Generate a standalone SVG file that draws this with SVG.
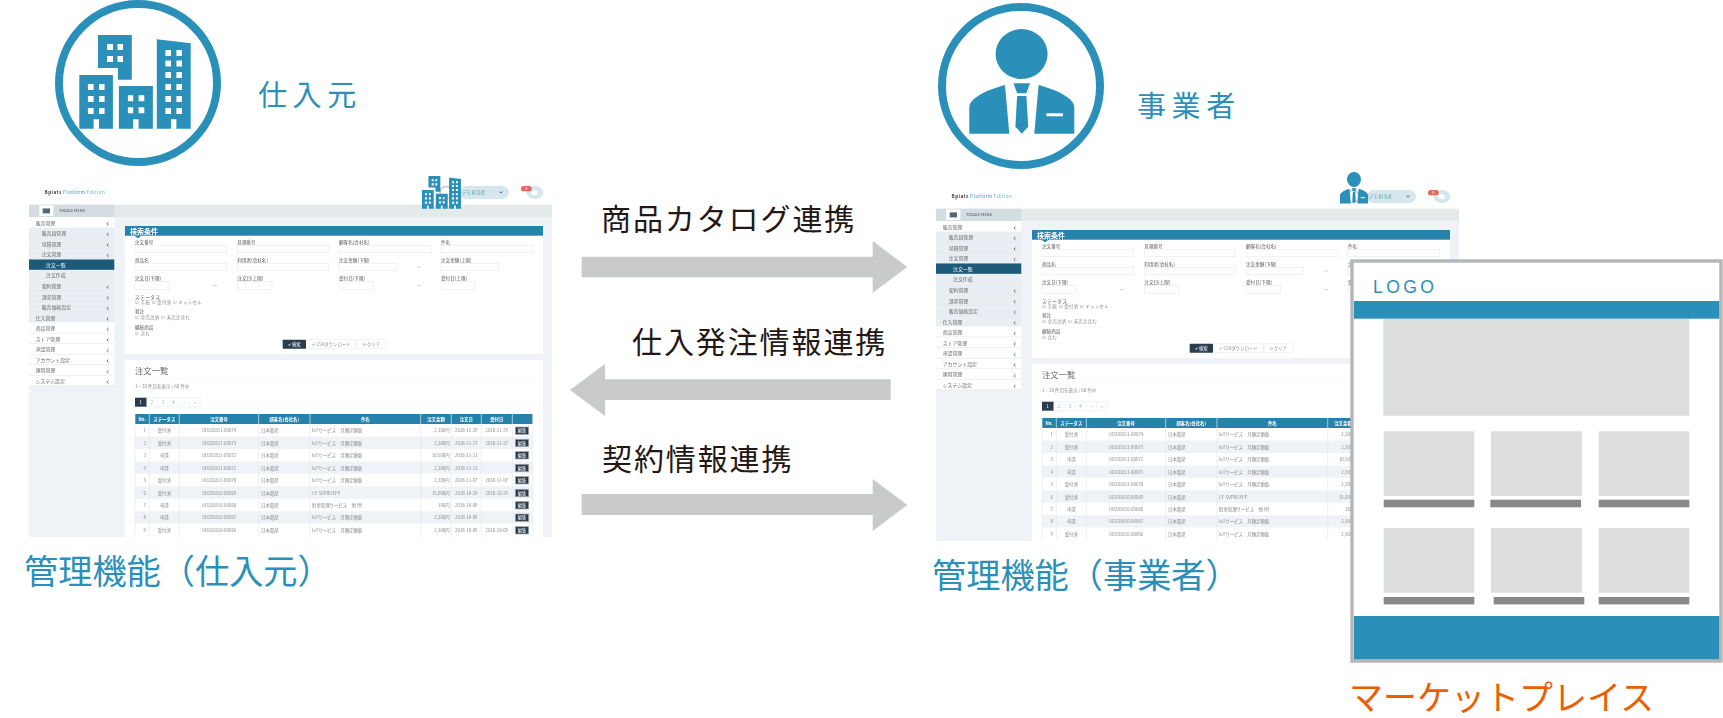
<svg xmlns="http://www.w3.org/2000/svg" width="1723" height="718" viewBox="0 0 1723 718">
<style>
text{font-family:"Noto Sans CJK JP","Noto Sans",sans-serif}
.blue{fill:#2a90b9}.ring{fill:none;stroke:#2a90b9;stroke-width:8}
.big{font-size:34.2px;fill:#2a90b9}
.role{font-size:29px;fill:#2a90b9;letter-spacing:5.6px}
.flow{font-size:30px;fill:#231815;letter-spacing:1.9px}
.arrow{fill:#c9caca}
.ph{fill:#dcdddd}.bar{fill:#898989}
.m{font-size:4.9px;fill:#666}
.lb{font-size:4.6px;fill:#555}.ck{font-size:4.3px;fill:#888}
.inp{fill:#fff;stroke:#e6ecf2;stroke-width:.7}
.btn{fill:#fff;stroke:#e7ecf1;stroke-width:.7}
.th{font-size:4.4px;fill:#fff;font-weight:700;text-anchor:middle}
.td{font-size:4.4px;fill:#888}.c{text-anchor:middle}.r{text-anchor:end}
.ed{fill:#2b3e50;stroke:#aaa;stroke-width:.7}
.edt{font-size:4.2px;fill:#fff;text-anchor:middle}
.sep{stroke:#dfe6ec;stroke-width:.6}
</style>
<defs>
<filter id="soft" x="0" y="0" width="1" height="1"><feGaussianBlur stdDeviation="0.45"/></filter>
<g id="bld">
<path d="M97.9 35H131.8V79.7H117.9V68H97.9ZM107 44v6h6v-6ZM117.5 44v6h5.5v-6ZM107 56v6h6v-6ZM117.5 56v6h5.5v-6Z" fill-rule="evenodd"/>
<path d="M79.3 75H112.9V128.7H99V119.3H93.6V128.7H79.3ZM87.9 84v6h5.7v-6ZM99 84v6h5.6v-6ZM87.9 96v6h5.7v-6ZM99 96v6h5.6v-6ZM87.9 108v6h5.7v-6ZM99 108v6h5.6v-6Z" fill-rule="evenodd"/>
<path d="M118.9 86H152.9V128.7H138.6V119.3H133.2V128.7H118.9ZM127.9 95.3v6h5.3v-6ZM138.6 95.3v6h5.7v-6ZM127.9 107.3v6h5.3v-6ZM138.6 107.3v6h5.7v-6Z" fill-rule="evenodd"/>
<path d="M156.8 39.3L190.7 43.3V128.7H176.4V119.3H171V128.7H156.8ZM165.4 50v6H171v-6ZM176.4 50v6H182v-6ZM165.4 60.5v6H171v-6ZM176.4 60.5v6H182v-6ZM165.4 72v6H171v-6ZM176.4 72v6H182v-6ZM165.4 84v6H171v-6ZM176.4 84v6H182v-6ZM165.4 96v6H171v-6ZM176.4 96v6H182v-6ZM165.4 108v6H171v-6ZM176.4 108v6H182v-6Z" fill-rule="evenodd"/>
</g>
<g id="psn">
<ellipse cx="1021.6" cy="54" rx="26" ry="25"/>
<path d="M1005 85L1009.3 133.7H969.3V106.7C970 97 990 89 1005 85Z"/>
<path d="M1038.6 85L1034.3 133.7H1074.3V106.7C1073.6 97 1053.6 89 1038.6 85Z"/>
<path d="M1013.6 83.3H1030L1026.4 93.3H1017.1Z"/>
<path d="M1017.1 96H1026.4L1028.2 126.7L1021.8 133.7L1015.4 126.7Z"/>
<rect x="1046.4" y="113.3" width="16.5" height="3" fill="#fff"/>
</g>
<clipPath id="panelClip"><rect x="29" y="180" width="524" height="357"/></clipPath>
<g id="screen" clip-path="url(#panelClip)">
<text x="44.6" y="193.6" font-size="4.7" font-weight="700" fill="#444" letter-spacing=".4">Bplats<tspan fill="#2a90b9" font-weight="400"> Platform </tspan><tspan fill="#6cb9b9" font-weight="400">Edition</tspan></text>
<rect x="460" y="186" width="49" height="13" rx="6.5" fill="#d5e6ee"/>
<circle cx="446" cy="192.5" r="6" fill="none" stroke="#c8c8c8" stroke-width="1.5"/>
<text x="462" y="194.2" font-size="4.4" fill="#5aa7a0">デモ 担当者</text>
<path d="M499.5 191.5l1.5 1.6l1.5-1.6" fill="none" stroke="#444" stroke-width=".8"/>
<ellipse cx="535" cy="192.5" rx="8.4" ry="6.5" fill="#d5e6ee"/>
<rect x="531.5" y="190.5" width="6" height="4.4" fill="#fff"/>
<rect x="521" y="186" width="10.7" height="5.3" rx="2.6" fill="#e0685c"/>
<text x="526.3" y="190.3" font-size="4" fill="#fff" class="c">0</text>
<rect x="29" y="204.7" width="523" height="12.3" fill="#e4e9e9"/>
<rect x="29" y="217" width="523" height="320" fill="#eff3f8"/>
<rect x="29" y="204.7" width="85.3" height="12.3" fill="#d3dde2"/>
<rect x="39.3" y="205.5" width="14" height="10.5" fill="#fff"/>
<rect x="42.7" y="208.4" width="7.3" height="5" fill="#51677a"/>
<text x="59" y="212.4" font-size="3.8" fill="#444">TOGGLE MENU</text>
<g id="sidebar">
<rect x="29" y="217" width="85.3" height="168.8" fill="#fff"/>
<rect x="29" y="227.5" width="85.3" height="95" fill="#e9eef2"/>
<rect x="29" y="259.2" width="85.3" height="10.6" fill="#1f5a78"/>
<path class="sep" d="M29 238H114M29 248.6H114M29 259.1H114M29 290.8H114M29 301.4H114M29 312H114M29 333H114M29 343.6H114M29 354.2H114M29 364.7H114M29 375.3H114M29 385.8H114"/>
<text class="m" x="35.7" y="224.6">販売管理</text>
<text class="m" x="41.7" y="235.2">販売員管理</text>
<text class="m" x="41.7" y="245.7">見積管理</text>
<text class="m" x="41.7" y="256.3">注文管理</text>
<text class="m" x="46" y="266.8" style="fill:#fff">注文一覧</text>
<text class="m" x="46" y="277.4">注文作成</text>
<text class="m" x="41.7" y="287.9">契約管理</text>
<text class="m" x="41.7" y="298.5">請求管理</text>
<text class="m" x="41.7" y="309.1">販売価格設定</text>
<text class="m" x="35.7" y="319.6">仕入管理</text>
<text class="m" x="35.7" y="330.2">商品管理</text>
<text class="m" x="35.7" y="340.7">ストア管理</text>
<text class="m" x="35.7" y="351.3">承認管理</text>
<text class="m" x="35.7" y="361.8">アカウント設定</text>
<text class="m" x="35.7" y="372.4">運用管理</text>
<text class="m" x="35.7" y="382.9">システム設定</text>
<path fill="none" stroke="#555" stroke-width=".8" d="M108.5 222.5l-1.6 1.4l1.6 1.4M108.5 233l-1.6 1.4l1.6 1.4M108.5 243.6l-1.6 1.4l1.6 1.4M108.5 254.2l-1.6 1.4l1.6 1.4M108.5 285.8l-1.6 1.4l1.6 1.4M108.5 296.4l-1.6 1.4l1.6 1.4M108.5 307l-1.6 1.4l1.6 1.4M108.5 317.5l-1.6 1.4l1.6 1.4M108.5 328.1l-1.6 1.4l1.6 1.4M108.5 338.6l-1.6 1.4l1.6 1.4M108.5 349.2l-1.6 1.4l1.6 1.4M108.5 359.7l-1.6 1.4l1.6 1.4M108.5 370.3l-1.6 1.4l1.6 1.4M108.5 380.8l-1.6 1.4l1.6 1.4"/>
</g>
<g id="search">
<rect x="125" y="226" width="418" height="128" fill="#fff"/>
<rect x="125" y="226" width="418" height="9.7" fill="#2581ab"/>
<path d="M134.5 235.7h7l-3.5 2.6z" fill="#2581ab"/>
<text x="130" y="233.6" font-size="7" fill="#fff" font-weight="700">検索条件</text>
<text class="lb" x="135" y="244">注文番号</text><rect class="inp" x="135" y="245.3" width="91.7" height="7.4"/>
<text class="lb" x="237.3" y="244">見積番号</text><rect class="inp" x="237.3" y="245.3" width="91.4" height="7.4"/>
<text class="lb" x="339" y="244">顧客名(会社名)</text><rect class="inp" x="339" y="245.3" width="91.7" height="7.4"/>
<text class="lb" x="441" y="244">件名</text><rect class="inp" x="441" y="245.3" width="91.7" height="7.4"/>
<text class="lb" x="135" y="262">商品名</text><rect class="inp" x="135" y="263.3" width="91.7" height="7.4"/>
<text class="lb" x="237.3" y="262">利用者(会社名)</text><rect class="inp" x="237.3" y="263.3" width="91.4" height="7.4"/>
<text class="lb" x="339" y="262">注文金額(下限)</text><rect class="inp" x="339" y="263.3" width="57.7" height="7.4"/>
<text class="lb" x="441" y="262">注文金額(上限)</text><rect class="inp" x="441" y="263.3" width="57.7" height="7.4"/>
<text class="lb" x="135" y="280.4">注文日(下限)</text><rect class="inp" x="135" y="281.7" width="34.7" height="7.6"/>
<text class="lb" x="237.3" y="280.4">注文日(上限)</text><rect class="inp" x="237.3" y="281.7" width="34.7" height="7.6"/>
<text class="lb" x="339" y="280.4">受付日(下限)</text><rect class="inp" x="339" y="281.7" width="34.7" height="7.6"/>
<text class="lb" x="441" y="280.4">受付日(上限)</text><rect class="inp" x="441" y="281.7" width="34.7" height="7.6"/>
<path stroke="#bbb" stroke-width=".6" d="M213 285.5h4M417 285.5h4M417 267h4"/>
<text class="lb" x="135" y="298.8" letter-spacing=".5">ステータス</text>
<text class="ck" x="135" y="304.2" letter-spacing=".4">☑ 手続  ☑ 受付済  ☑ キャンセル</text>
<text class="lb" x="135" y="313.4">発注</text>
<text class="ck" x="135" y="319.4" letter-spacing=".4">☑ 全売注済  ☑ 未売注含む</text>
<text class="lb" x="135" y="328.8">継続商品</text>
<text class="ck" x="135" y="334.8" letter-spacing=".4">☑ 含む</text>
<rect x="282.7" y="339.7" width="23.3" height="9" rx=".6" fill="#2b3e50"/>
<text x="294.3" y="345.9" font-size="4.4" fill="#fff" class="c">✔ 検索</text>
<rect class="btn" x="307" y="339.7" width="49" height="9" rx=".6"/>
<text x="331.5" y="345.9" font-size="4.4" fill="#888" class="c">✔ CSVダウンロード</text>
<rect class="btn" x="357" y="339.7" width="28.7" height="9" rx=".6"/>
<text x="371.3" y="345.9" font-size="4.4" fill="#888" class="c">⟳ クリア</text>
</g>
<g id="list">
<rect x="125" y="360" width="418" height="177" fill="#fff"/>
<path class="sep" d="M135 378H533" opacity=".4"/>
<text x="135" y="374" font-size="8.4" fill="#666">注文一覧</text>
<text x="135" y="387.8" font-size="4.5" fill="#888">1 – 20 件目を表示 / 68 件中</text>
<rect x="135" y="397.7" width="11.7" height="9" fill="#2b3e50"/>
<path fill="#fff" stroke="#e7ecf1" stroke-width=".6" d="M147 397.7h53.3v9H147zM157.3 397.7v9M168 397.7v9M179 397.7v9M189.7 397.7v9"/>
<g font-size="4.4" fill="#6ca">
<text x="140.8" y="403.8" fill="#fff" text-anchor="middle">1</text>
<text x="152" y="403.8" text-anchor="middle">2</text>
<text x="162.7" y="403.8" text-anchor="middle">3</text>
<text x="173.5" y="403.8" text-anchor="middle">4</text>
<text x="184.3" y="403.8" text-anchor="middle">‹</text>
<text x="195" y="403.8" text-anchor="middle">»</text>
</g>
<rect x="135" y="414" width="397.7" height="10" fill="#2581ab"/>
<rect x="135" y="424" width="397.7" height="113" fill="#fff"/>
<path fill="#eff3f7" d="M135 436.5h397.7v12.4H135zM135 461.4h397.7v12.4H135zM135 486.3h397.7v12.4H135zM135 511.2h397.7v12.4H135z"/>
<path stroke="#e3e9ee" stroke-width=".7" d="M135 414v123M149.3 414v123M179.3 414v123M258.7 414v123M310 414v123M420.7 414v123M451.3 414v123M481.3 414v123M512.3 414v123M532.7 414v123"/>
<text class="th" x="142.2" y="420.6">No.</text>
<text class="th" x="164.3" y="420.6">ステータス</text>
<text class="th" x="219" y="420.6">注文番号</text>
<text class="th" x="284.3" y="420.6">顧客名(会社名)</text>
<text class="th" x="365.3" y="420.6">件名</text>
<text class="th" x="436" y="420.6">注文金額</text>
<text class="th" x="466.3" y="420.6">注文日</text>
<text class="th" x="496.8" y="420.6">受付日</text>
<g transform="translate(0,430.7)"><text class="td r" x="146" y="1.6">1</text><text class="td c" x="164.3" y="1.6">受付済</text><text class="td c" x="219" y="1.6">OD201811-00074</text><text class="td" x="261" y="1.6">日本電産</text><text class="td" x="312" y="1.6">IoTサービス　月額定額版</text><text class="td r" x="449.7" y="1.6">2,300円</text><text class="td c" x="466.3" y="1.6">2018-11-29</text><text class="td c" x="496.8" y="1.6">2018-11-29</text><rect class="ed" x="515.3" y="-3.7" width="13.4" height="7.4"/><text class="edt" x="522" y="1.5">編集</text></g>
<g transform="translate(0,443)"><text class="td r" x="146" y="1.6">2</text><text class="td c" x="164.3" y="1.6">受付済</text><text class="td c" x="219" y="1.6">OD201811-00073</text><text class="td" x="261" y="1.6">日本電産</text><text class="td" x="312" y="1.6">IoTサービス　月額定額版</text><text class="td r" x="449.7" y="1.6">2,300円</text><text class="td c" x="466.3" y="1.6">2018-11-27</text><text class="td c" x="496.8" y="1.6">2018-11-27</text><rect class="ed" x="515.3" y="-3.7" width="13.4" height="7.4"/><text class="edt" x="522" y="1.5">編集</text></g>
<g transform="translate(0,455.3)"><text class="td r" x="146" y="1.6">3</text><text class="td c" x="164.3" y="1.6">申請</text><text class="td c" x="219" y="1.6">OD201811-00072</text><text class="td" x="261" y="1.6">日本電産</text><text class="td" x="312" y="1.6">IoTサービス　月額定額版</text><text class="td r" x="449.7" y="1.6">10,500円</text><text class="td c" x="466.3" y="1.6">2018-11-21</text><rect class="ed" x="515.3" y="-3.7" width="13.4" height="7.4"/><text class="edt" x="522" y="1.5">編集</text></g>
<g transform="translate(0,468)"><text class="td r" x="146" y="1.6">4</text><text class="td c" x="164.3" y="1.6">申請</text><text class="td c" x="219" y="1.6">OD201811-00071</text><text class="td" x="261" y="1.6">日本電産</text><text class="td" x="312" y="1.6">IoTサービス　月額定額版</text><text class="td r" x="449.7" y="1.6">2,300円</text><text class="td c" x="466.3" y="1.6">2018-11-13</text><rect class="ed" x="515.3" y="-3.7" width="13.4" height="7.4"/><text class="edt" x="522" y="1.5">編集</text></g>
<g transform="translate(0,480.3)"><text class="td r" x="146" y="1.6">5</text><text class="td c" x="164.3" y="1.6">受付済</text><text class="td c" x="219" y="1.6">OD201811-00070</text><text class="td" x="261" y="1.6">日本電産</text><text class="td" x="312" y="1.6">IoTサービス　月額定額版</text><text class="td r" x="449.7" y="1.6">2,300円</text><text class="td c" x="466.3" y="1.6">2018-11-07</text><text class="td c" x="496.8" y="1.6">2018-11-07</text><rect class="ed" x="515.3" y="-3.7" width="13.4" height="7.4"/><text class="edt" x="522" y="1.5">編集</text></g>
<g transform="translate(0,493)"><text class="td r" x="146" y="1.6">6</text><text class="td c" x="164.3" y="1.6">受付済</text><text class="td c" x="219" y="1.6">OD201810-00069</text><text class="td" x="261" y="1.6">日本電産</text><text class="td" x="312" y="1.6">CF-SVPROFFP</text><text class="td r" x="449.7" y="1.6">15,000円</text><text class="td c" x="466.3" y="1.6">2018-10-29</text><text class="td c" x="496.8" y="1.6">2018-10-29</text><rect class="ed" x="515.3" y="-3.7" width="13.4" height="7.4"/><text class="edt" x="522" y="1.5">編集</text></g>
<g transform="translate(0,505.3)"><text class="td r" x="146" y="1.6">7</text><text class="td c" x="164.3" y="1.6">申請</text><text class="td c" x="219" y="1.6">OD201810-00068</text><text class="td" x="261" y="1.6">日本電産</text><text class="td" x="312" y="1.6">駐車管理サービス　他1件</text><text class="td r" x="449.7" y="1.6">100円</text><text class="td c" x="466.3" y="1.6">2018-10-09</text><rect class="ed" x="515.3" y="-3.7" width="13.4" height="7.4"/><text class="edt" x="522" y="1.5">編集</text></g>
<g transform="translate(0,517.7)"><text class="td r" x="146" y="1.6">8</text><text class="td c" x="164.3" y="1.6">申請</text><text class="td c" x="219" y="1.6">OD201810-00067</text><text class="td" x="261" y="1.6">日本電産</text><text class="td" x="312" y="1.6">IoTサービス　月額定額版</text><text class="td r" x="449.7" y="1.6">2,300円</text><text class="td c" x="466.3" y="1.6">2018-10-09</text><rect class="ed" x="515.3" y="-3.7" width="13.4" height="7.4"/><text class="edt" x="522" y="1.5">編集</text></g>
<g transform="translate(0,530.3)"><text class="td r" x="146" y="1.6">9</text><text class="td c" x="164.3" y="1.6">受付済</text><text class="td c" x="219" y="1.6">OD201810-00066</text><text class="td" x="261" y="1.6">日本電産</text><text class="td" x="312" y="1.6">IoTサービス　月額定額版</text><text class="td r" x="449.7" y="1.6">2,300円</text><text class="td c" x="466.3" y="1.6">2018-10-09</text><text class="td c" x="496.8" y="1.6">2018-10-09</text><rect class="ed" x="515.3" y="-3.7" width="13.4" height="7.4"/><text class="edt" x="522" y="1.5">編集</text></g>
</g>
</g>
</defs>

<g id="supplier">
<circle class="ring" cx="138" cy="83" r="79"/>
<use href="#bld" class="blue"/>
<text class="role" x="258" y="106">仕入元</text>
</g>
<g id="operator">
<circle class="ring" cx="1021" cy="86" r="79"/>
<use href="#psn" class="blue"/>
<text class="role" x="1137" y="117">事業者</text>
</g>

<g id="supplier-screen">
<use href="#screen" filter="url(#soft)"/>
<use href="#bld" class="blue" transform="translate(394.2,163.75) scale(.35)"/>
<text class="big" x="24" y="584">管理機能（仕入元）</text>
</g>
<g id="operator-screen">
<use href="#screen" transform="translate(907,4)" filter="url(#soft)"/>
<use href="#psn" class="blue" transform="translate(1080.2,163.3) scale(.268,.3)"/>
<text class="big" x="932" y="588">管理機能（事業者）</text>
</g>

<g id="connectors">
<path class="arrow" d="M581.7 256.7H872.7V241L907.3 267L872.7 292.7V277.3H581.7Z"/>
<path class="arrow" d="M890.7 379.3H605V364L570 390L605 416V400H890.7Z"/>
<path class="arrow" d="M581.7 494H872.7V479L907.3 505L872.7 531V515H581.7Z"/>
<text class="flow" x="601" y="230">商品カタログ連携</text>
<text class="flow" x="632" y="353">仕入発注情報連携</text>
<text class="flow" x="602" y="470">契約情報連携</text>
</g>

<g id="marketplace">
<rect x="1352" y="261" width="369" height="400" fill="#fff" stroke="#b5b6b6" stroke-width="3.4"/>
<rect class="blue" x="1354" y="301" width="365.3" height="17.7"/>
<rect class="blue" x="1354" y="616" width="365.3" height="43.3"/>
<text x="1373" y="293.2" font-size="17.6" letter-spacing="3.4" style="font-family:'Liberation Sans',sans-serif" fill="#2a90b9">LOGO</text>
<rect class="ph" x="1383.3" y="319" width="306" height="96.7"/>
<rect class="ph" x="1383.7" y="431.3" width="90.6" height="64.7"/>
<rect class="ph" x="1491" y="431.3" width="91" height="64.7"/>
<rect class="ph" x="1598.7" y="431.3" width="90.6" height="64.7"/>
<rect class="bar" x="1383.7" y="499.7" width="90.6" height="7.6"/>
<rect class="bar" x="1490.3" y="499.7" width="90.7" height="7.6"/>
<rect class="bar" x="1598.7" y="499.7" width="90.6" height="7.6"/>
<rect class="ph" x="1383.7" y="528" width="90.6" height="64.7"/>
<rect class="ph" x="1491" y="528" width="91" height="64.7"/>
<rect class="ph" x="1598.7" y="528" width="90.6" height="64.7"/>
<rect class="bar" x="1383.7" y="597" width="90.6" height="7.4"/>
<rect class="bar" x="1493.7" y="597" width="90.6" height="7.4"/>
<rect class="bar" x="1598.7" y="597" width="90.6" height="7.4"/>
<text x="1349" y="710" font-size="34" fill="#ea6000">マーケットプレイス</text>
</g>
</svg>
